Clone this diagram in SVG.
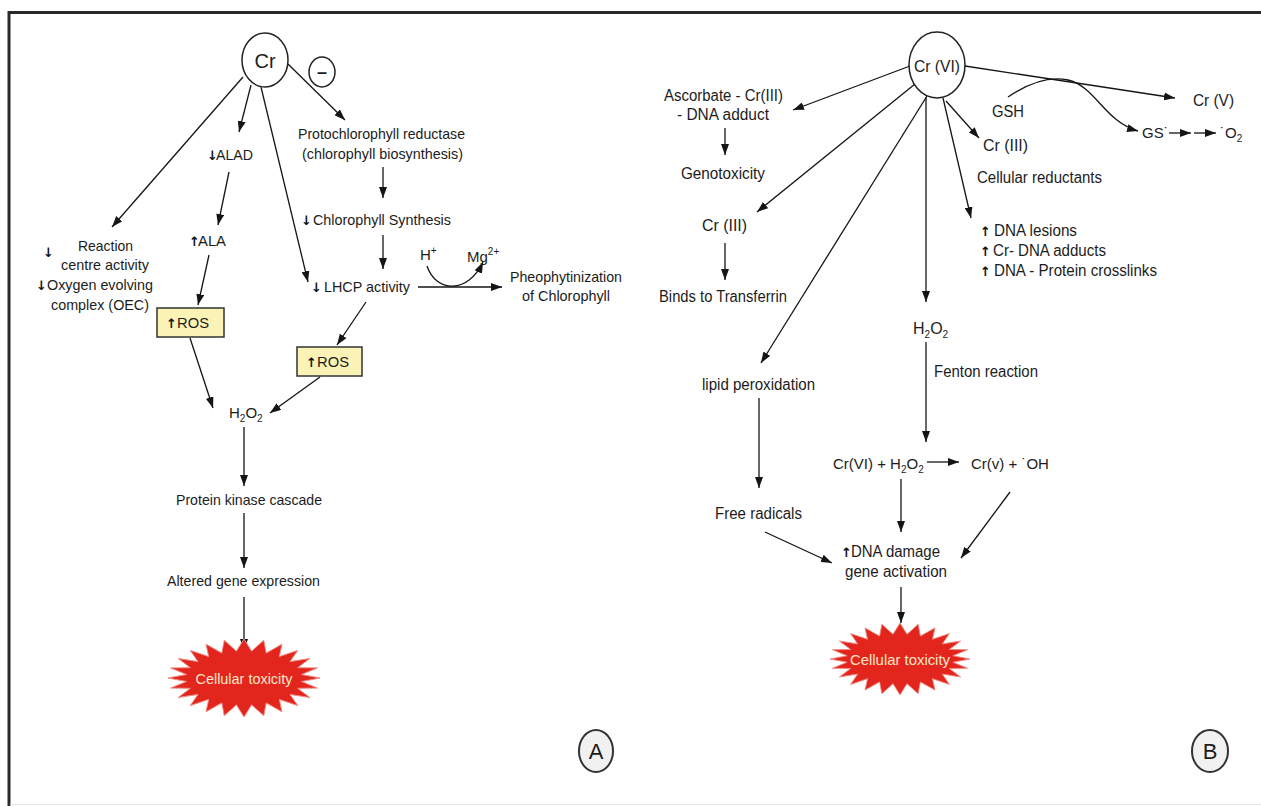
<svg xmlns="http://www.w3.org/2000/svg" width="1261" height="806" viewBox="0 0 1261 806">
<style>
.t{font-family:"Liberation Sans",Arial,sans-serif;font-size:15px;fill:#1c1c1c}
.b{font-size:16px}
.ar{font-family:"DejaVu Sans","Liberation Sans",sans-serif;font-weight:bold;font-size:13px;fill:#111}
.sub{font-size:10px}
.c{stroke:#151515;stroke-width:1.3;fill:none;marker-end:url(#ah)}
.node{fill:#fff;stroke:#222;stroke-width:1.5}
.ros{fill:#fbf3b6;stroke:#333;stroke-width:1.5}
.lab{fill:#f1f1f1;stroke:#333;stroke-width:2}
.star{fill:#e2261d;stroke:#f08a80;stroke-width:1}
.tox{font-family:"Liberation Sans",Arial,sans-serif;font-size:15px;fill:#fde6c6}
</style>
<defs>
<marker id="ah" markerUnits="userSpaceOnUse" markerWidth="12" markerHeight="8" refX="11" refY="4" orient="auto">
<path d="M0,0 L11,4 L0,8 z" fill="#151515"/>
</marker>
<path id="starShape" d="M76,0 L57.5,3.5 L73.4,10.1 L53.6,10.3 L65.8,19.5 L46,16.4 L53.7,27.6 L35.3,21.4 L38,33.8 L22.2,24.9 L19.7,37.7 L7.6,26.8 L0,39 L-7.6,26.8 L-19.7,37.7 L-22.2,24.9 L-38,33.8 L-35.3,21.4 L-53.7,27.6 L-46,16.4 L-65.8,19.5 L-53.6,10.3 L-73.4,10.1 L-57.5,3.5 L-76,0 L-57.5,-3.5 L-73.4,-10.1 L-53.6,-10.3 L-65.8,-19.5 L-46,-16.4 L-53.7,-27.6 L-35.3,-21.4 L-38,-33.8 L-22.2,-24.9 L-19.7,-37.7 L-7.6,-26.8 L0,-39 L7.6,-26.8 L19.7,-37.7 L22.2,-24.9 L38,-33.8 L35.3,-21.4 L53.7,-27.6 L46,-16.4 L65.8,-19.5 L53.6,-10.3 L73.4,-10.1 L57.5,-3.5 z"/>
</defs>
<rect x="0" y="0" width="1261" height="806" fill="#fff"/>
<g id="frame">
<line x1="8" y1="12.5" x2="1261" y2="12.5" stroke="#2a2a2a" stroke-width="3"/>
<line x1="9" y1="11" x2="9" y2="806" stroke="#2a2a2a" stroke-width="3"/>
<line x1="10" y1="804.5" x2="1261" y2="804.5" stroke="#e4e4e4" stroke-width="1"/>
</g>

<g id="connectors">
<!-- Panel A -->
<line class="c" x1="243" y1="77" x2="112" y2="227"/>
<line class="c" x1="251" y1="85" x2="239" y2="132"/>
<line class="c" x1="261" y1="87" x2="308" y2="282"/>
<line class="c" x1="288" y1="64" x2="345" y2="120"/>
<line class="c" x1="383" y1="167" x2="383" y2="198"/>
<line class="c" x1="383" y1="235" x2="383" y2="269"/>
<line class="c" x1="229" y1="172" x2="218" y2="225"/>
<line class="c" x1="209" y1="255" x2="198" y2="305"/>
<line class="c" x1="190" y1="338" x2="213" y2="408"/>
<line class="c" x1="366" y1="302" x2="337" y2="345"/>
<line class="c" x1="320" y1="377" x2="270" y2="413"/>
<line class="c" x1="244" y1="427" x2="244" y2="486"/>
<line class="c" x1="244" y1="513" x2="244" y2="568"/>
<line class="c" x1="244" y1="597" x2="244" y2="650"/>
<line class="c" x1="418" y1="287" x2="502" y2="287"/>
<path class="c" d="M427 266 C436 293 468 294 483 262"/>
<!-- Panel B -->
<line class="c" x1="910" y1="66" x2="793" y2="110"/>
<line class="c" x1="725" y1="128" x2="725" y2="155"/>
<line class="c" x1="915" y1="84" x2="757" y2="212"/>
<line class="c" x1="725" y1="243" x2="725" y2="280"/>
<line class="c" x1="927" y1="96" x2="761" y2="363"/>
<line class="c" x1="759" y1="398" x2="759" y2="488"/>
<line class="c" x1="765" y1="532" x2="832" y2="563"/>
<line class="c" x1="926" y1="97" x2="926" y2="302"/>
<line class="c" x1="926" y1="342" x2="926" y2="442"/>
<line class="c" x1="927" y1="462" x2="959" y2="462"/>
<line class="c" x1="901" y1="479" x2="901" y2="532"/>
<line class="c" x1="1010" y1="492" x2="961" y2="558"/>
<line class="c" x1="901" y1="587" x2="901" y2="623"/>
<line class="c" x1="965" y1="66" x2="1175" y2="98"/>
<path class="c" d="M1008 97 C1030 82 1050 76 1068 80 C1095 86 1105 122 1138 131"/>
<line class="c" x1="946" y1="101" x2="979" y2="138"/>
<line class="c" x1="943" y1="98" x2="971" y2="218"/>
<line class="c" x1="1169" y1="133" x2="1191" y2="133"/>
<line class="c" x1="1194" y1="133" x2="1216" y2="133"/>
</g>

<!-- Panel A nodes -->
<g id="cr">
<ellipse class="node" cx="265" cy="60" rx="23" ry="27"/>
<text class="t" x="265" y="68" text-anchor="middle" style="font-size:20px">Cr</text>
</g>
<g id="minus">
<ellipse class="node" cx="322" cy="72" rx="13" ry="15"/>
<text class="t" x="322" y="78" text-anchor="middle" style="font-size:18px;font-weight:bold">–</text>
</g>
<g id="protochl">
<text class="t" x="298" y="139" textLength="167" lengthAdjust="spacingAndGlyphs">Protochlorophyll reductase</text>
<text class="t" x="302" y="159" textLength="161" lengthAdjust="spacingAndGlyphs">(chlorophyll biosynthesis)</text>
</g>
<g id="alad">
<text class="ar" x="207" y="160">↓</text>
<text class="t" x="216" y="160" textLength="37" lengthAdjust="spacingAndGlyphs">ALAD</text>
</g>
<g id="ala">
<text class="ar" x="189" y="246">↑</text>
<text class="t" x="198" y="246" textLength="28" lengthAdjust="spacingAndGlyphs">ALA</text>
</g>
<g id="chlsyn">
<text class="ar" x="301" y="225">↓</text>
<text class="t" x="313" y="225" textLength="138" lengthAdjust="spacingAndGlyphs">Chlorophyll Synthesis</text>
</g>
<g id="reaction">
<text class="ar" x="43" y="257">↓</text>
<text class="t" x="78" y="251" textLength="55" lengthAdjust="spacingAndGlyphs">Reaction</text>
<text class="t" x="61" y="270" textLength="88" lengthAdjust="spacingAndGlyphs">centre activity</text>
<text class="ar" x="36" y="290">↓</text>
<text class="t" x="47" y="290" textLength="106" lengthAdjust="spacingAndGlyphs">Oxygen evolving</text>
<text class="t" x="51" y="310" textLength="98" lengthAdjust="spacingAndGlyphs">complex (OEC)</text>
</g>
<g id="lhcp">
<text class="ar" x="311" y="292">↓</text>
<text class="t" x="324" y="292" textLength="86" lengthAdjust="spacingAndGlyphs">LHCP activity</text>
</g>
<g id="hplus">
<text class="t" x="420" y="260">H<tspan class="sub" dy="-6">+</tspan></text>
</g>
<g id="mg">
<text class="t" x="467" y="262">Mg<tspan class="sub" dy="-7">2+</tspan></text>
</g>
<g id="pheo">
<text class="t" x="510" y="282" textLength="112" lengthAdjust="spacingAndGlyphs">Pheophytinization</text>
<text class="t" x="522" y="301" textLength="88" lengthAdjust="spacingAndGlyphs">of Chlorophyll</text>
</g>
<g id="ros1">
<rect class="ros" x="157" y="308" width="67" height="29"/>
<text class="ar" x="166" y="328">↑</text>
<text class="t" x="177" y="328" textLength="32" lengthAdjust="spacingAndGlyphs">ROS</text>
</g>
<g id="ros2">
<rect class="ros" x="297" y="347" width="65" height="29"/>
<text class="ar" x="306" y="367">↑</text>
<text class="t" x="317" y="367" textLength="32" lengthAdjust="spacingAndGlyphs">ROS</text>
</g>
<g id="h2o2a">
<text class="t" x="229" y="418">H<tspan class="sub" dy="4">2</tspan><tspan dy="-4">O</tspan><tspan class="sub" dy="4">2</tspan></text>
</g>
<g id="pkc">
<text class="t" x="176" y="505" textLength="146" lengthAdjust="spacingAndGlyphs">Protein kinase cascade</text>
</g>
<g id="age">
<text class="t" x="167" y="586" textLength="153" lengthAdjust="spacingAndGlyphs">Altered gene expression</text>
</g>
<g id="toxA">
<use href="#starShape" class="star" transform="translate(244,678)"/>
<text class="tox" x="244" y="684" text-anchor="middle" textLength="97" lengthAdjust="spacingAndGlyphs">Cellular toxicity</text>
</g>
<g id="labA">
<ellipse class="lab" cx="596" cy="751" rx="17" ry="21"/>
<text class="t" x="596" y="759" text-anchor="middle" style="font-size:22px">A</text>
</g>

<!-- Panel B nodes -->
<g id="crvi">
<ellipse class="node" cx="937" cy="65" rx="28" ry="33"/>
<text class="t b" x="937" y="72" text-anchor="middle" textLength="46" lengthAdjust="spacingAndGlyphs">Cr (VI)</text>
</g>
<g id="ascorbate">
<text class="t b" x="664" y="101" textLength="119" lengthAdjust="spacingAndGlyphs">Ascorbate - Cr(III)</text>
<text class="t b" x="677" y="120" textLength="92" lengthAdjust="spacingAndGlyphs">- DNA adduct</text>
</g>
<g id="genotox">
<text class="t b" x="681" y="179" textLength="84" lengthAdjust="spacingAndGlyphs">Genotoxicity</text>
</g>
<g id="cr3left">
<text class="t b" x="702" y="231" textLength="45" lengthAdjust="spacingAndGlyphs">Cr (III)</text>
</g>
<g id="binds">
<text class="t b" x="659" y="302" textLength="128" lengthAdjust="spacingAndGlyphs">Binds to Transferrin</text>
</g>
<g id="lipid">
<text class="t b" x="702" y="390" textLength="113" lengthAdjust="spacingAndGlyphs">lipid peroxidation</text>
</g>
<g id="freerad">
<text class="t b" x="715" y="519" textLength="87" lengthAdjust="spacingAndGlyphs">Free radicals</text>
</g>
<g id="h2o2b">
<text class="t b" x="913" y="334">H<tspan class="sub" dy="4">2</tspan><tspan dy="-4">O</tspan><tspan class="sub" dy="4">2</tspan></text>
</g>
<g id="fenton">
<text class="t b" x="934" y="377" textLength="104" lengthAdjust="spacingAndGlyphs">Fenton reaction</text>
</g>
<g id="react1">
<text class="t" x="833" y="469">Cr(VI) + H<tspan class="sub" dy="4">2</tspan><tspan dy="-4">O</tspan><tspan class="sub" dy="4">2</tspan></text>
</g>
<g id="react2">
<text class="t" x="971" y="469">Cr(v) + ˙OH</text>
</g>
<g id="dnadamage">
<text class="ar" x="841" y="557">↑</text>
<text class="t b" x="851" y="557" textLength="89" lengthAdjust="spacingAndGlyphs">DNA damage</text>
<text class="t b" x="845" y="577" textLength="102" lengthAdjust="spacingAndGlyphs">gene activation</text>
</g>
<g id="toxB">
<use href="#starShape" class="star" transform="translate(900,659) scale(0.92)"/>
<text class="tox" x="900" y="665" text-anchor="middle" textLength="100" lengthAdjust="spacingAndGlyphs">Cellular toxicity</text>
</g>
<g id="labB">
<ellipse class="lab" cx="1210" cy="751" rx="18" ry="21"/>
<text class="t" x="1210" y="759" text-anchor="middle" style="font-size:22px">B</text>
</g>
<g id="crv">
<text class="t b" x="1193" y="106" textLength="41" lengthAdjust="spacingAndGlyphs">Cr (V)</text>
</g>
<g id="gsh">
<text class="t b" x="992" y="117" textLength="32" lengthAdjust="spacingAndGlyphs">GSH</text>
</g>
<g id="gs">
<text class="t" x="1142" y="138">GS˙</text>
</g>
<g id="o2">
<text class="t" x="1220" y="138">˙O<tspan class="sub" dy="4">2</tspan></text>
</g>
<g id="cr3right">
<text class="t b" x="983" y="151" textLength="45" lengthAdjust="spacingAndGlyphs">Cr (III)</text>
<text class="t b" x="977" y="183" textLength="125" lengthAdjust="spacingAndGlyphs">Cellular reductants</text>
</g>
<g id="dnalesions">
<text class="ar" x="980" y="236">↑</text>
<text class="t b" x="994" y="236" textLength="83" lengthAdjust="spacingAndGlyphs">DNA lesions</text>
<text class="ar" x="980" y="256">↑</text>
<text class="t b" x="993" y="256" textLength="113" lengthAdjust="spacingAndGlyphs">Cr- DNA adducts</text>
<text class="ar" x="980" y="276">↑</text>
<text class="t b" x="994" y="276" textLength="163" lengthAdjust="spacingAndGlyphs">DNA - Protein crosslinks</text>
</g>
</svg>
